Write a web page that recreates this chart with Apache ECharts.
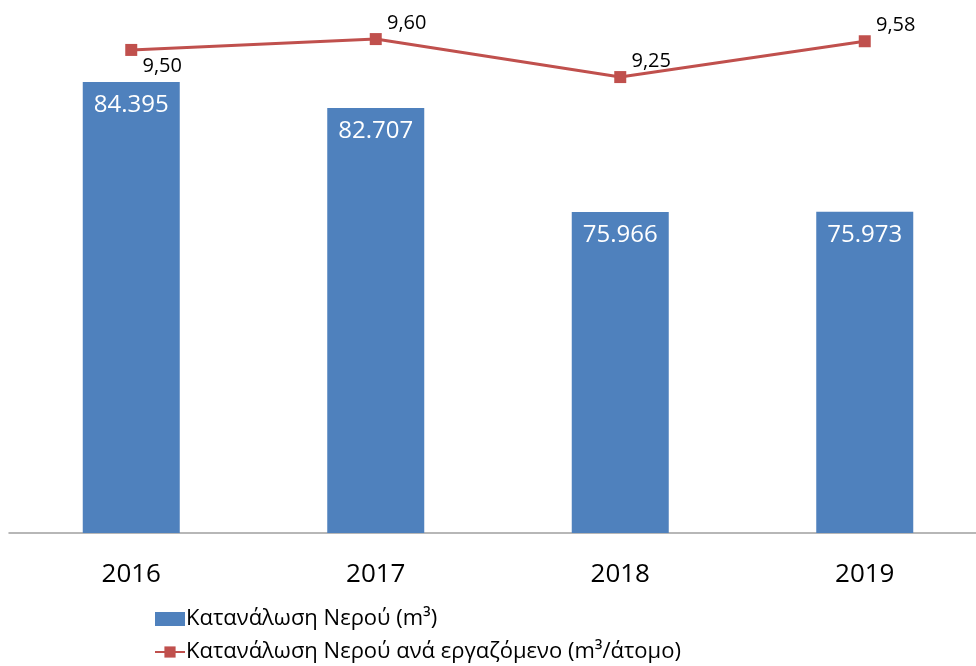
<!DOCTYPE html>
<html>
<head>
<meta charset="utf-8">
<script src="https://cdn.jsdelivr.net/npm/echarts@6/dist/echarts.min.js"></script>
<style>
  html, body { margin: 0; padding: 0; background: #fff; }
  #chart { width: 976px; height: 666px; }
</style>
</head>
<body>
<div id="chart"></div>
<script>
const years = ["2016", "2017", "2018", "2019"];
const waterTotal = [84395, 82707, 75966, 75973];
const waterPerEmployee = [9.5, 9.6, 9.25, 9.58];
const seriesNames = ["Κατανάλωση Νερού (m³)", "Κατανάλωση Νερού ανά εργαζόμενο (m³/άτομο)"];

const font = "Open Sans";
const chart = echarts.init(document.getElementById("chart"));

// thousands with a dot, decimals with a comma
function fmtThousands(v) {
  return String(v).replace(/\B(?=(\d{3})+(?!\d))/g, ".");
}
function fmtDecimal(v) {
  return v.toFixed(2).replace(".", ",");
}

const lineData = waterPerEmployee.map((v, i) => {
  // first label sits under its marker, the others above
  const below = i === 0;
  return {
    value: v,
    label: { position: below ? "bottom" : "top", distance: 0 }
  };
});

chart.setOption({
  animation: false,
  textStyle: { fontFamily: font },
  grid: { left: 9, right: -11, top: 0, bottom: 133, outerBoundsMode: "none", containLabel: false },
  legend: {
    orient: "vertical",
    left: 154,
    top: 608,
    padding: 0,
    itemGap: 11,
    itemWidth: 30,
    itemHeight: 14,
    textStyle: { fontSize: 22, color: "#000", fontFamily: font, padding: [0, 0, 0, -4] },
    data: [
      { name: seriesNames[0], icon: "rect" },
      { name: seriesNames[1] }
    ]
  },
  xAxis: {
    type: "category",
    data: years,
    axisTick: { show: false },
    axisLine: { lineStyle: { color: "#a0a0a0", width: 1.5 } },
    axisLabel: { fontSize: 26, color: "#000", margin: 29, fontFamily: font }
  },
  yAxis: [
    { type: "value", min: 55150, max: 89710, show: false, splitLine: { show: false } },
    { type: "value", min: 5.05, max: 9.96, show: false, splitLine: { show: false } }
  ],
  series: [
    {
      name: seriesNames[0],
      type: "bar",
      data: waterTotal,
      barWidth: 97,
      itemStyle: { color: "#4f81bd" },
      label: {
        show: true,
        position: "insideTop",
        distance: 11,
        color: "#fff",
        fontSize: 24,
        fontFamily: font,
        formatter: p => fmtThousands(p.value)
      }
    },
    {
      name: seriesNames[1],
      type: "line",
      yAxisIndex: 1,
      data: lineData,
      symbol: "rect",
      symbolSize: 12,
      lineStyle: { color: "#c0504d", width: 3 },
      itemStyle: { color: "#c0504d" },
      label: {
        show: true,
        offset: [31, 0],
        color: "#000",
        fontSize: 20,
        fontFamily: font,
        formatter: p => fmtDecimal(p.value)
      }
    }
  ]
});
</script>
</body>
</html>
